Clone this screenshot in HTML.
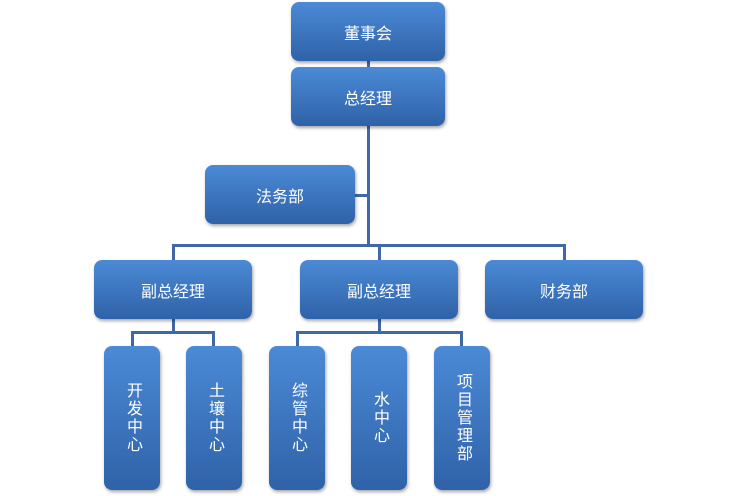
<!DOCTYPE html><html><head><meta charset="utf-8"><style>
body{margin:0;width:738px;height:496px;background:#fff;position:relative;overflow:hidden;font-family:"Liberation Sans","Noto Sans CJK SC",sans-serif}
.b{position:absolute;border-radius:8px;background:linear-gradient(#4b8ad6,#2f62a8);color:#fff;font-size:16px;display:flex;align-items:center;justify-content:center;box-shadow:1px 2px 3px rgba(0,0,0,.35)}
.v{writing-mode:vertical-rl;letter-spacing:2px;line-height:1}
.l{position:absolute;background:#4068a8}
</style></head><body>
<div class="l" style="left:367px;top:60px;width:3px;height:186px"></div>
<div class="l" style="left:354px;top:194px;width:14px;height:3px"></div>
<div class="l" style="left:172px;top:244px;width:394px;height:3px"></div>
<div class="l" style="left:172px;top:244px;width:3px;height:18px"></div>
<div class="l" style="left:378px;top:244px;width:3px;height:18px"></div>
<div class="l" style="left:563px;top:244px;width:3px;height:18px"></div>
<div class="l" style="left:172px;top:318px;width:3px;height:15px"></div>
<div class="l" style="left:131px;top:331px;width:84px;height:3px"></div>
<div class="l" style="left:131px;top:331px;width:3px;height:16px"></div>
<div class="l" style="left:212px;top:331px;width:3px;height:16px"></div>
<div class="l" style="left:378px;top:318px;width:3px;height:15px"></div>
<div class="l" style="left:296px;top:331px;width:167px;height:3px"></div>
<div class="l" style="left:296px;top:331px;width:3px;height:16px"></div>
<div class="l" style="left:460px;top:331px;width:3px;height:16px"></div>
<div class="b" style="left:291px;top:2px;width:154px;height:59px">董事会</div>
<div class="b" style="left:291px;top:67px;width:154px;height:59px">总经理</div>
<div class="b" style="left:205px;top:165px;width:150px;height:59px">法务部</div>
<div class="b" style="left:94px;top:260px;width:158px;height:59px">副总经理</div>
<div class="b" style="left:300px;top:260px;width:158px;height:59px">副总经理</div>
<div class="b" style="left:485px;top:260px;width:158px;height:59px">财务部</div>
<div class="b" style="left:104px;top:346px;width:56px;height:144px"><span class="v">开发中心</span></div>
<div class="b" style="left:186px;top:346px;width:56px;height:144px"><span class="v">土壤中心</span></div>
<div class="b" style="left:269px;top:346px;width:56px;height:144px"><span class="v">综管中心</span></div>
<div class="b" style="left:351px;top:346px;width:56px;height:144px"><span class="v">水中心</span></div>
<div class="b" style="left:434px;top:346px;width:56px;height:144px"><span class="v">项目管理部</span></div>
</body></html>
